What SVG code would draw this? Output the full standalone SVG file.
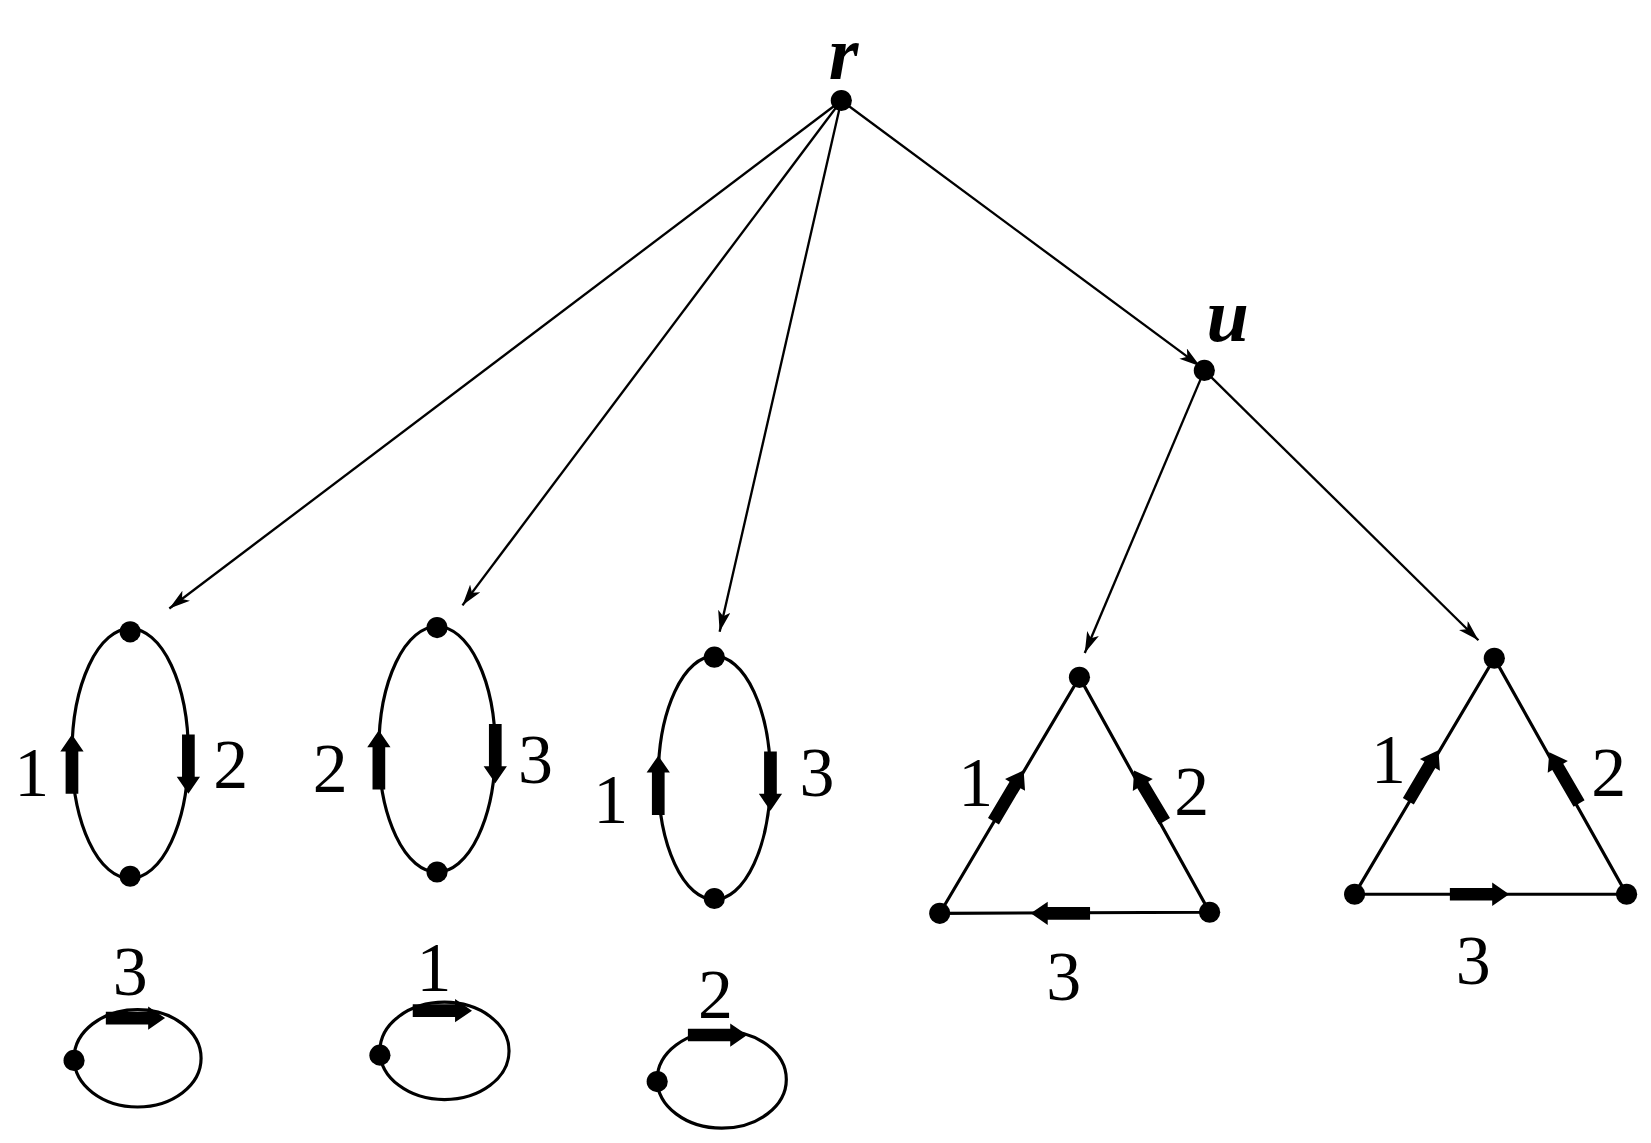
<svg xmlns="http://www.w3.org/2000/svg" width="1651" height="1143" viewBox="0 0 1651 1143">
<style>
.e{fill:none;stroke:#000;stroke-width:3}
.c{stroke:#000;stroke-width:2.2;fill:none}
.t{font-family:"Liberation Serif",serif;font-size:66px;fill:#000;text-anchor:middle}
.i{font-family:"Liberation Serif",serif;font-size:72px;font-style:italic;font-weight:bold;fill:#000;text-anchor:middle}
</style>
<defs>
<marker id="ah" viewBox="0 0 20 12" refX="20" refY="6" markerWidth="20" markerHeight="12" markerUnits="userSpaceOnUse" orient="auto"><path d="M0,0 L20,6 L0,12 L5,6 Z" fill="#000"/></marker>
<path id="ta" d="M-28,-6 H12 V-11 L28,0 L12,11 V6 H-28 Z" fill="#000"/>
</defs>
<rect width="1651" height="1143" fill="#fff"/>
<g transform="scale(1.0583)">
<g id="connectors">
<line class="c" x1="795" y1="95" x2="160" y2="575" marker-end="url(#ah)"/>
<line class="c" x1="795" y1="95" x2="437" y2="572" marker-end="url(#ah)"/>
<line class="c" x1="795" y1="95" x2="680" y2="597" marker-end="url(#ah)"/>
<line class="c" x1="795" y1="95" x2="1134" y2="346" marker-end="url(#ah)"/>
<line class="c" x1="1138" y1="350" x2="1025" y2="617" marker-end="url(#ah)"/>
<line class="c" x1="1138" y1="350" x2="1397" y2="605" marker-end="url(#ah)"/>
</g>
<g id="r"><circle cx="795" cy="95" r="10"/><text class="i" x="797" y="75">r</text></g>
<g id="u"><circle cx="1138" cy="350" r="10"/><text class="i" x="1160" y="322">u</text></g>
<g id="g1">
<ellipse class="e" cx="123" cy="712" rx="55" ry="118"/>
<circle cx="123" cy="597" r="10"/><circle cx="123" cy="828" r="10"/>
<use href="#ta" transform="translate(68,722) rotate(-90)"/>
<use href="#ta" transform="translate(178,722) rotate(90)"/>
<text class="t" x="30" y="752">1</text><text class="t" x="218" y="745">2</text>
</g>
<g id="g2">
<ellipse class="e" cx="413" cy="708" rx="55" ry="116"/>
<circle cx="413" cy="593" r="10"/><circle cx="413" cy="824" r="10"/>
<use href="#ta" transform="translate(358,718) rotate(-90)"/>
<use href="#ta" transform="translate(468,712) rotate(90)"/>
<text class="t" x="312" y="748">2</text><text class="t" x="506" y="740">3</text>
</g>
<g id="g3">
<ellipse class="e" cx="675" cy="735" rx="53" ry="115"/>
<circle cx="675" cy="621" r="10"/><circle cx="675" cy="849" r="10"/>
<use href="#ta" transform="translate(622,742) rotate(-90)"/>
<use href="#ta" transform="translate(728,738) rotate(90)"/>
<text class="t" x="577" y="778">1</text><text class="t" x="772" y="752">3</text>
</g>
<g id="l1">
<ellipse class="e" cx="130" cy="1000" rx="60" ry="46"/>
<circle cx="70" cy="1002" r="10"/>
<use href="#ta" transform="translate(128,962)"/>
<text class="t" x="123" y="940">3</text>
</g>
<g id="l2">
<ellipse class="e" cx="420" cy="993" rx="61" ry="46"/>
<circle cx="359" cy="997" r="10"/>
<use href="#ta" transform="translate(418,955)"/>
<text class="t" x="410" y="936">1</text>
</g>
<g id="l3">
<ellipse class="e" cx="682" cy="1020" rx="61" ry="46"/>
<circle cx="621" cy="1022" r="10"/>
<use href="#ta" transform="translate(678,978)"/>
<text class="t" x="676" y="962">2</text>
</g>
<g id="t1">
<polygon class="e" points="1020,640 888,863 1143,862"/>
<circle cx="1020" cy="640" r="10"/><circle cx="888" cy="863" r="10"/><circle cx="1143" cy="862" r="10"/>
<use href="#ta" transform="translate(953,752) rotate(-59.4)"/>
<use href="#ta" transform="translate(1086,752) rotate(-120.9)"/>
<use href="#ta" transform="translate(1002,863) rotate(180)"/>
<text class="t" x="922" y="762">1</text><text class="t" x="1126" y="770">2</text><text class="t" x="1005" y="945">3</text>
</g>
<g id="t2">
<polygon class="e" points="1412,622 1280,845 1537,845"/>
<circle cx="1412" cy="622" r="10"/><circle cx="1280" cy="845" r="10"/><circle cx="1537" cy="845" r="10"/>
<use href="#ta" transform="translate(1345,733) rotate(-59.4)"/>
<use href="#ta" transform="translate(1478,735) rotate(-120.2)"/>
<use href="#ta" transform="translate(1398,845)"/>
<text class="t" x="1312" y="740">1</text><text class="t" x="1520" y="752">2</text><text class="t" x="1392" y="930">3</text>
</g>
</g>
</svg>
